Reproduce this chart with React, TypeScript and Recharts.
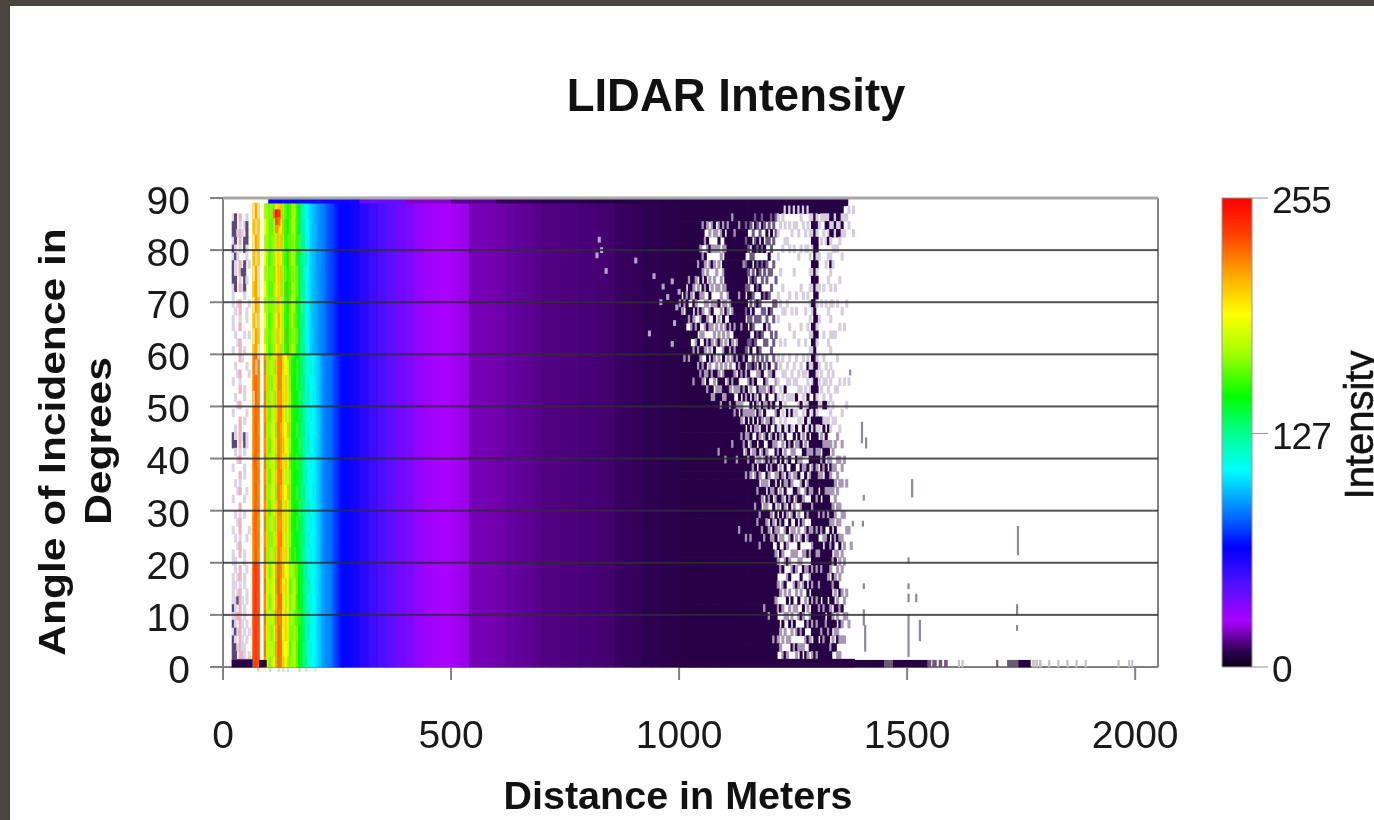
import React from 'react';
import { Bar, BarChart, ReferenceLine, Scatter, ScatterChart, XAxis, YAxis } from 'recharts';

const xTicks = [0, 500, 1000, 1500, 2000];
const yTicks = [0, 10, 20, 30, 40, 50, 60, 70, 80, 90];
const barTicks = [0, 127, 255];
const barData = [{ name: 'Intensity', value: 255 }];

// colour scale
const rampValues = [0, 8, 25, 45, 65, 85, 107, 127, 147, 170, 192, 215, 235, 255];
const rampColors = ['#0c0018', '#2a004c', '#aa00ff', '#5010ff', '#0000ff', '#0080ff', '#00ffff', '#00ff90', '#00ff00', '#a0ff00', '#ffff00', '#ffa000', '#ff4000', '#ff0000'];

// near field, one value per 5 m starting at 67.5 m, -1 = no return
const nearUpper = [205, 215, 205, -1, -1, 190, 170, 160, 165, 170, 195, 205, 198, 170, 155, 150, 160, 172, 168, 155, 140, 130, 122, 112, 106, 100, 96, 94, 90, 88, 86, 84, 80, 78, 76, 74, 70, 68, 66, 65];
const nearMiddle = [220, 228, 220, -1, -1, 222, 205, 165, 175, 180, 205, 222, 218, 200, 190, 182, 165, 150, 145, 145, 140, 132, 125, 118, 112, 110, 106, 104, 100, 96, 90, 86, 84, 83, 82, 78, 74, 72, 68, 66];
const nearLower = [232, 238, 232, -1, -1, 225, 200, 172, 175, 185, 215, 228, 222, 195, 192, 185, 165, 170, 172, 160, 148, 140, 132, 124, 116, 112, 108, 106, 102, 98, 92, 90, 88, 86, 84, 80, 76, 72, 68, 66];

// mottling on the near field stripes, 3 degree rows from the top: y yellow, g green, o orange, w white
const mottleRows = [
  'w.w..g.y.g..o.y.g.y.g...c..c...',
  '.w..  y.g..y.o.g.y..g.c....c...',
  'w..w.g..y.g.o..y.g..y.g..c.....',
  '.w...y.g...y.g.o.y.g...g..c..c.',
  'w.w..g.y.g..o.y..g.y.g...c.....',
  '..w..y..g.y.g.o.g..y..g.c...c..',
  'w....g.y..g.y..o.y.g.y...g.c...',
  '.w.w.y.g.y.o..g.y.g...g.c...c..',
  'w....g..y.g.y.o..g.y.g...c.....',
  '..w..y.g..y.g..o.y.g..g..c..c..',
  '.w...g.y.g..o.y.g..y.g...g.c...',
  '.....y..g.y.g.o..g.y..g.c...c..',
  'w....g.y.g.y..o.y.g.y...g.c....',
  '..o..y.g..y.o.g.y..g.g...c..c..',
  '.o...g..y.g.y..o.g.y..g.c......',
  '..o..y.g.y.g.o..y.g.y...g..c...',
  'o....g.y..g.y.o.g..y.g...c..c..',
  '..o..y.g.y..o.g.y.g..g.c.......',
  '.o...g..y.g.y..o.g.y..g...c.c..',
  '..o..y.g..y.g.o.y.g.y...g......',
  'o....g.y.g.y..o..g.y.g...c..c..',
  '..o..y..g.y.o.g.y..g..g.c......',
  '.o...g.y.g..y.o.g.y.g....c..c..',
  '..o..y.g.y.g.o..y.g..g.c.......',
  'o....g..y.g.y.o.g.y.g...g..c...',
  '..o..y.g..y.o.g..y.g.g...c..c..',
  '.o...g.y.g.y..o.y.g.y...g......',
  '..o..y..g.y.g.o..g.y..g.c...c..',
  'o....g.y.g..o.y.g.y.g....c.....',
  '..o..y.g.y.g.o.g..y.g..g...c...',
];

// far field, one value per 20 m starting at 270 m
const farValues = [66, 60, 55, 50, 46, 42, 38, 35, 31, 28, 26, 25, 24, 23, 18, 18, 17.5, 17, 16, 15.5, 15, 14, 13, 13, 12.5, 12.5, 12, 12, 11.5, 11, 10, 9.5, 9, 8.5, 8.5, 8, 8];

// strip along the 90 degree edge, one value per 100 m starting at 150 m
const topStrip = [62, 60, 40, 20, 14, 9, 8, 7, 7];

// hot spots at the top of the 120 m stripe: distance, angle, intensity
const hotDistance = [112.5, 117.5, 122.5, 117.5, 122.5, 117.5];
const hotAngle = [87, 87, 87, 85.5, 85.5, 84];
const hotValue = [225, 250, 240, 235, 225, 218];

// faint close range returns, 5 m columns from 20 m, 1.5 degree rows from the top
const closeRows = [
  '.........', '.........', 'lp.r..l..', 'pp.l.lp..', 'pplrl.p..', 'lp.r.pp..', 'pl.l.pl..', 'lpl...l..', 'pl.r.p.l.', 'pl.rpp...',
  'pp.l.pl..', 'lp.rlp...', 'l....l...', 'l.lr...l.', '.l.r..l..', 'l..l..l..', 'l..r.....', '.l...l.l.', '..lr.....', 'l..r.l...',
  '...rl....', '.l....l..', '..lr...l.', 'l..l.....', '...r.l...', '.l...l...', '..lr.....', 'l.....l..', '...r.l...', '.l.r.....',
  'pl.rlpl..', 'pp.r.pl..', '.l.l.l...', '..lr.....', 'l....l...', '...r.l...', '.l.l.....', '..lr..l..', 'l....l...', '...r.....',
  '.l.l.l...', '..lr.....', 'l..r...l.', '.l.l..l..', '..lr.....', 'l..r.l...', 'll...l...', '.l.r..l..', 'l.lr.l...', 'll.l.l...',
  'l.lr..l..', 'llprl.l..', 'pl.r.l...', 'llrr.l...', 'pl.rl.l..', 'lplr.l.l.', 'pl.rl.l..', 'pplrll...', 'pp.rrl.l.', 'ppppppppp',
];

// returns thinning out: one string per 5 m column from 1000 m, read from 90 degrees down in 1.5 degree steps: # dark, + grey, . none
const edgeColumns = [
  '########## ###+###### ########## ########## ########## ##########',
  '########## ##.#+##### ########## ########## ########## ##########',
  '########## ###+.##### +######### ########## ########## ##########',
  '########## #.+###.### ########## ########## ########## ##########',
  '########## +##.#+.### +######### ########## ########## ##########',
  '########## ##+.##+#.# ########## ########## ########## ##########',
  '########## #+.#.+##.+ ###+###### ########## ########## ##########',
  '########## +.#+#.+#+# ########## ########## ########## ##########',
  '########+# .+#.+.#.#+ #+######## ########## ########## ##########',
  '######+### #.+.#+.+.# +#+####### ########## ########## ##########',
  '###+##.+#+ .#+.+#.+.# .+#+###### ########## ########## ##########',
  '####.+.#+. #+.+.#+.#+ .#+.###### ########## ########## ##########',
  '###+.#+..+ .#.+.+#.+. #.+#+##### ########## ########## ##########',
  '###.+.#.+. +.#.+.+.#+ .+#.###### ########## ########## ##########',
  '###+..+.#. .+.+#.+.+. #.+.#+#### ########## ########## ##########',
  '####+.+.+. +..+.#.+.# +.#+.+#### ########## ########## ##########',
  '###.+.+..+ .+.+..+.+. .+#.+##### ########## ########## ##########',
  '###+.#+.+. .+.#.+.+#. +.+#+##### ##+####### ########## ##########',
  '####+..+.. +.+.+.+.+. .+.#+#+### ########## ########## ##########',
  '###+#.+.#+ .+.+.#.+.+ #.+##+#### ########## ########## ##########',
  '####.#+### #+.+#.+.+# .+#.#+#### ###+###### ########## ##########',
  '###+###### ##+.+.#+.# +.#+###### ########## ########## ##########',
  '########## ###+.#+.#+ .+##+#+### ########## ########## ##########',
  '##+####### ####+##.+# +.#+.##### #+######## ########## ##########',
  '####+##### ######+#.+ #.+#+.#+## ########## ########## ##########',
  '########## ########+# +#.#+.+### ###+###### ########## ##########',
  '###+###### ##+####### #+#.+#+.## ########## ##+####### ##########',
  '########## ######+### ##+.#.+#+# +######### ########## ##########',
  '########+# ########## +##.+#.+.# #+.####### ########## ##########',
  '###+#+#.+# #+.#+.###+ #.+.#+.+#. +#+##+#### ###+###### ##########',
  '####.#+.#+ .+#.#+.#+. .+#+.#.+.# +.#+###### ########## ##########',
  '###+.#.+#. +.#+.+#.+# .+.#+.#+#. #+.##+#### ###+###### ##########',
  '###.+.#+.+ #.+.#.+.#. +#.+.#.+.# .#+#+.#### ########## ##########',
  '##+#.+#.#. +#.+.+.#+. .+.#.+#.#+ .#+.#+###+ ########## ##########',
  '###+.#+.+# .+.#.+.+.# +.+.#.+#.+ #.#+.##+## #+######## ##########',
  '###.+.#.#+ .#.+.+.#.+ .#+.+#.+#. +#.+#+.### +###+##### ##########',
  '##+#.#+.+. +.#.+..+.. +.#.+.#.+# .#+.#.+#+. ##+####### ##########',
  '###+..#.#+ ..+.+.#.+. .+.#+.+#.# +.#+#.+#.+ ###+###### ##+#######',
  '###.#+..+. +.#..+..+. +..+.#+.+. #.+#.#+.#+ #+######## ##########',
  '###+.+.#.+ ..+.#.+... .#+.+.#.+# .#.+#+.#+. #.+####### ###+######',
  '##+.#.+..+ .+..+..+.+ ..+.#.+.#. +#.#+.#+#. +#.+###### ##########',
  '###+.+..+. ...+.+..+. +.#.+.#.+. #+.+#.#+.# .+#+.##### ######+###',
  '##+.+..... +..+...+.. .+.+.#.+.# .+#.#+.#+. #.+#.+#### #+########',
  '##+.+..+.. ..+..+.... +..+.+.#.+ #.+#.+#.#+ .#+.#.+#.+ #.+.##+#.#',
  '##.+.....+ ...+....+. .+..+.#.+. +.#.+#.+#. #+.+.#.+.. +.#..+.+.#',
  '##+...+... .+..+..... +.+..+.+.# .+.#.+#.+# .#.+.+.#.+ ..+.#.+.+#',
  '#+.+.+.... ....+...+. ..+.#.+.+. #.+.#.+#.+ #.+.#.+..# +..+.+..##',
  '##...+.... ...+...... .+.+.+.#.+ .#.+.#+.#. +.#.+.#.+. .#.+..+.+#',
  '#+.+..+... ..+...+... +..+.+.+.# .+.#.+#.+# .#.+..+.#. +.+.#.+..#',
  '##..+..... ....+..... ..+..+.#.+ .#+.#.+.#. +.+#.+.+.. .#.+.+.#.#',
  '#+.+..+..+ .......+.. .+.+.+.+.. #.+.#+.#.+ #.+..+.#.+ ..+.#..+.#',
  '##.+...... ..+.+..... +..+.#.+.# .+.#.+.#+. .#.+.+.+.# +.+..+.#+#',
  '#+..+..+.. ........+. ..+.+.+.+. #+.+.#.+#. +.+.#.+..+ .#.+.#.+.#',
  '##+...+... .+....+... .+..+.#.+. .#.+#.+.#+ .#.+..+.#. +..#.+.+##',
  '#+.+...... ..+....... +.+..+.+.# +.#.+.#.+# .+.#.+.#.+ ..#+.#.+.#',
  '##..+.+... ....+...+. ..+.+.+.#. .+#.+#.+.# #.+..+.+.# .+..#.+.##',
  '#+.+..+... ..+...+... +#.+.#+#.+ #.+.#.+#.# +.#+.#.+.. #.+.+.#.+#',
  '##+.+..+.+ .+.+.+.+.+ .+#.+.#.+# .#+#.+#+.# #.+#.+.#+# .#.+#.+#.#',
  '##+#+#+.#+ #+.#+.#+#+ #+#+#.#+#+ ##+#+##+#+ ##+#+##+#+ #+##+#.#+#',
  '########## ########## ########## ########## ########## ##########',
  '##+#+##+#+ #+#+.#+#+. +#+##+#+#+ ##+#+###+# ##+##+#+## #+##+###+#',
  '##.+...+.. .+...+.... .+.+..+.#+ .#+#.+#.## +##.#+###+ ##+###.###',
  '##+..+.... ...+...... ..+.+.+.#. +#.+#+##.# ##+.###+## #.###+####',
  '##+.+..... .+.....+.. +..+.+#.+# .+##+.#### +##+.##### ##+###+###',
  '##+#.+..+. ...+...... .+.+..#.+. #+#.###+## ##.+###### ###.+#####',
  '##+#+#.+.. +...+...+. ..+.+.+.+# .+#+.##+## +#.#####+# #.###+####',
  '###+#+.+#+ .+.+.+.+.+ .+.+.+.+.+ .+.+#+#+.# #+#.+##+.# ##+###.+##',
  '###+#.+.+. ...+...+.. ..+...+.+. ..+.+.#+.+ #+.##.+.#+ .#.+#.+#.#',
  '##+#+.+... .+.....+.. ....+...+. .+..+.+.+. +.#+.+#.+# +.#.#+.#.#',
  '###+#.+... ...+...... +...+..... +..+.+.+.+ .+.#.+.+.# .+#+.+#.+#',
  '###+#+.... +.....+... ...+.....+ ...+..+..+ .+.+#.+.+. #.+.#.+.+#',
  '##+#+..+.. ....+..... .......+.. .+..+.+... +..+.+.+.. +.#.+.+..#',
  '#.+.+..... ......+... ...+...... ...+...... +...+.+... .+.+..+..#',
  '#.+....... ...+...... ......+... ......+... ..+....... +..+.....#',
  '.+.+...... .......... ...+...... .......... ..+....... ....+....#',
  '.......... .......... .......... .......... ....+..... .........#',
  '.+..+..... .......... .......... .......... .......... .........#',
];

// stray returns before the edge: distance, angle
const strayDistance = [825, 830, 1000, 985, 975, 960, 995, 935, 985, 990, 820, 840, 905, 945, 965];
const strayAngle = [82, 80, 72, 74, 71, 70, 69, 64, 62, 66, 79, 76, 78, 75, 73];

// thin streaks past the edge: distance, low angle, high angle
const streakDistance = [1375, 1401, 1410, 1511, 1743, 1405, 1405, 1405, 1408, 1503, 1503, 1503, 1503, 1520, 1528, 1381, 1403, 1741, 1741];
const streakLow = [56, 43, 42, 32.6, 21.5, 32, 15, 8, 3, 20, 15, 12.5, 2, 12.5, 5, 27, 27, 10, 7];
const streakHigh = [57, 47, 44, 36, 27, 33, 16, 11, 8, 21, 16, 14, 10, 14, 9, 28, 28, 12, 8];

// ground strip along 0 degrees: start, end, intensity tone (0 black .. 2 light)
const groundStart = [20, 80, 1000, 1450, 1470, 1545, 1556, 1570, 1582, 1612, 1620, 1696, 1720, 1745, 1775, 1782, 1790, 1810, 1830, 1850, 1870, 1890, 1962, 1985, 1992];
const groundEnd = [63, 95, 1450, 1470, 1545, 1552, 1564, 1576, 1588, 1615, 1623, 1699, 1745, 1770, 1779, 1786, 1794, 1813, 1833, 1853, 1873, 1893, 1965, 1988, 1995];
const groundTone = [0, 0, 0, 1, 0, 1, 1, 1, 1, 2, 2, 1, 1, 0, 2, 2, 2, 2, 2, 2, 2, 2, 2, 2, 2];

const PX_PER_M = 935 / 2050;
const PX_PER_DEG = 469 / 90;
const FONT = '"Liberation Sans", Arial, sans-serif';
const DARK = '#270046';

function rampColor(v: number) {
  let i = 0;
  while (i < rampValues.length - 2 && v > rampValues[i + 1]) i++;
  const t = Math.min(1, (v - rampValues[i]) / (rampValues[i + 1] - rampValues[i]));
  const a = rampColors[i];
  const b = rampColors[i + 1];
  const part = (p: number) => Math.round(parseInt(a.slice(p, p + 2), 16) * (1 - t) + parseInt(b.slice(p, p + 2), 16) * t);
  return `rgb(${part(1)},${part(3)},${part(5)})`;
}

interface HeatCell {
  d: number;
  a: number;
  w: number;
  h: number;
  fill: string;
}

const columnCells: HeatCell[] = [];
[[nearUpper, 60, 29], [nearMiddle, 20, 40], [nearLower, 0, 20]].forEach(([values, low, span]: any) => {
  values.forEach((v: number, i: number) => {
    if (v >= 0) columnCells.push({ d: 67.5 + i * 5, a: low + span / 2, w: 5, h: span, fill: rampColor(v) });
  });
});
farValues.forEach((v, i) => columnCells.push({ d: 270 + i * 20, a: 44.5, w: 20, h: 89, fill: rampColor(v) }));

const mottleColors: Record<string, string> = {
  y: 'rgba(255,235,60,0.2)',
  g: 'rgba(40,220,60,0.3)',
  o: 'rgba(255,90,10,0.28)',
  w: 'rgba(255,255,255,0.55)',
  c: 'rgba(0,190,255,0.22)',
};
const mottleCells: HeatCell[] = mottleRows.flatMap((row, r) =>
  row.split('').flatMap((c, i) => (mottleColors[c] ? [{ d: 67.5 + i * 5, a: 87.5 - r * 3, w: 5, h: 3, fill: mottleColors[c] }] : [])),
);

const stripCells: HeatCell[] = topStrip.map((v, i) => ({ d: 150 + i * 100, a: 89.4, w: 100, h: 0.8, fill: rampColor(v) }));
const hotCells: HeatCell[] = hotValue.map((v, i) => ({ d: hotDistance[i], a: hotAngle[i], w: 5, h: 1.5, fill: rampColor(v) }));

const closeColors: Record<string, string> = { p: '#5a4a72', r: '#eeb0ba', l: '#dcd4e6' };
const closeCells: HeatCell[] = closeRows.flatMap((row, r) =>
  row.split('').flatMap((c, i) => (c === '.' ? [] : [{ d: 22.5 + i * 5, a: 89.25 - r * 1.5, w: 5, h: 1.5, fill: closeColors[c] }])),
);

// the grey flecks are darker where the returns are still dense and pale where they have nearly gone
function edgeColor(c: string, column: number, row: number) {
  if (c === '#') return DARK;
  if (column >= 29 && column < 43 && row < 22) return '#6e5c86';
  if (column >= 43 && row < 30) return '#d6cede';
  return '#a898b4';
}

const edgeCells: HeatCell[] = edgeColumns.flatMap((column, i) =>
  column
    .replace(/ /g, '')
    .split('')
    .flatMap((c, r) => (c === '.' ? [] : [{ d: 1002.5 + i * 5, a: 89.25 - r * 1.5, w: 5, h: 1.5, fill: edgeColor(c, i, r) }])),
);

const strayCells: HeatCell[] = strayDistance.map((d, i) => ({ d, a: strayAngle[i], w: 5, h: 1, fill: '#b8a6c8' }));
const streakCells: HeatCell[] = streakDistance.map((d, i) => ({
  d,
  a: (streakLow[i] + streakHigh[i]) / 2,
  w: 3,
  h: streakHigh[i] - streakLow[i],
  fill: '#8d8894',
}));
const toneColors = [DARK, '#6a5a78', '#c4c0c8'];
const groundCells: HeatCell[] = groundStart.map((s, i) => ({
  d: (s + groundEnd[i]) / 2,
  a: 0.65,
  w: groundEnd[i] - s,
  h: 1.3,
  fill: toneColors[groundTone[i]],
}));

// grid lines sit on top of the heat map, so they go in as the last layer
const gridCells: HeatCell[] = yTicks.slice(1).map((t) => ({
  d: 1025,
  a: t,
  w: 2050,
  h: (t === 90 ? 3 : 2) / PX_PER_DEG,
  fill: t === 90 ? '#a8a8a8' : 'rgba(45,45,50,0.82)',
}));

function CellShape({ cx, cy, payload }: any) {
  const w = payload.w * PX_PER_M;
  const h = payload.h * PX_PER_DEG;
  return <rect x={cx - w / 2 - 0.4} y={cy - h / 2 - 0.3} width={w + 0.8} height={h + 0.6} fill={payload.fill} />;
}

// translucent layers must not overlap
function WashShape({ cx, cy, payload }: any) {
  const w = payload.w * PX_PER_M;
  const h = payload.h * PX_PER_DEG;
  return <rect x={cx - w / 2} y={cy - h / 2} width={w} height={h} fill={payload.fill} />;
}

function YTitle() {
  return (
    <g fontFamily={FONT} fontWeight="bold" fontSize={42.5} fill="#111" textAnchor="middle">
      <text transform="translate(65,442) rotate(-90) scale(1,0.86)">Angle of Incidence in</text>
      <text transform="translate(111,441) rotate(-90) scale(1,0.86)">Degrees</text>
    </g>
  );
}

function XTitle() {
  return (
    <text x={678} y={809} fontFamily={FONT} fontWeight="bold" fontSize={39.5} fill="#111" textAnchor="middle">
      Distance in Meters
    </text>
  );
}

function BarTitle() {
  return (
    <text transform="translate(1373,425) rotate(-90)" fontFamily={FONT} fontSize={40} fill="#111" stroke="#111" strokeWidth={0.6} textAnchor="middle">
      Intensity
    </text>
  );
}

const tickStyle = { fontFamily: FONT, fontSize: 39, fill: '#1a1a1a' };

export default function App() {
  return (
    <div style={{ position: 'absolute', left: 0, top: 0, width: 1374, height: 820, background: '#4a4640', overflow: 'hidden' }}>
      <div style={{ position: 'absolute', left: 10, top: 6, width: 1364, height: 814, background: '#fff' }} />
      <div
        style={{
          position: 'absolute',
          left: 0,
          top: 70,
          width: 1472,
          textAlign: 'center',
          fontFamily: FONT,
          fontWeight: 'bold',
          fontSize: 45.5,
          lineHeight: '52px',
          color: '#111',
          filter: 'blur(0.5px)',
        }}
      >
        LIDAR Intensity
      </div>
      <div style={{ position: 'absolute', left: 0, top: 0, filter: 'blur(0.7px)' }}>
        <ScatterChart width={1374} height={820} margin={{ top: 198, right: 216, bottom: 53, left: 0 }}>
          <XAxis
            type="number"
            dataKey="d"
            domain={[0, 2050]}
            ticks={xTicks}
            height={100}
            tickSize={13}
            tickMargin={40}
            tick={tickStyle}
            stroke="#808080"
            strokeWidth={2}
            interval={0}
            label={<XTitle />}
          />
          <YAxis
            type="number"
            dataKey="a"
            domain={[0, 90]}
            ticks={yTicks}
            width={223}
            tickSize={13}
            tickMargin={20}
            tick={{ ...tickStyle, dy: 2 }}
            stroke="#808080"
            strokeWidth={2}
            interval={0}
            label={<YTitle />}
          />
          <ReferenceLine x={2050} stroke="#808080" strokeWidth={2} />
          <Scatter data={columnCells} shape={CellShape} isAnimationActive={false} />
          <Scatter data={mottleCells} shape={WashShape} isAnimationActive={false} />
          <Scatter data={stripCells} shape={CellShape} isAnimationActive={false} />
          <Scatter data={hotCells} shape={CellShape} isAnimationActive={false} />
          <Scatter data={closeCells} shape={CellShape} isAnimationActive={false} />
          <Scatter data={edgeCells} shape={CellShape} isAnimationActive={false} />
          <Scatter data={strayCells} shape={CellShape} isAnimationActive={false} />
          <Scatter data={streakCells} shape={CellShape} isAnimationActive={false} />
          <Scatter data={groundCells} shape={CellShape} isAnimationActive={false} />
          <Scatter data={gridCells} shape={WashShape} isAnimationActive={false} />
        </ScatterChart>
      </div>
      <div style={{ position: 'absolute', left: 0, top: 0, filter: 'blur(0.5px)' }}>
        <BarChart width={1374} height={820} data={barData} margin={{ top: 198, right: 22, bottom: 153, left: 1222 }} barCategoryGap={0}>
          <defs>
            <linearGradient id="ramp" x1="0" y1="1" x2="0" y2="0">
              {rampValues.map((v, i) => (
                <stop key={v} offset={v / 255} stopColor={rampColors[i]} />
              ))}
            </linearGradient>
          </defs>
          <XAxis dataKey="name" hide />
          <YAxis
            orientation="right"
            domain={[0, 255]}
            ticks={barTicks}
            width={100}
            tickSize={16}
            tickMargin={4}
            tick={{ fontFamily: FONT, fontSize: 37, fill: '#1a1a1a', letterSpacing: -1, dy: 2 }}
            stroke="#909090"
            axisLine={false}
            interval={0}
            label={<BarTitle />}
          />
          <Bar dataKey="value" fill="url(#ramp)" stroke="#999" isAnimationActive={false} />
        </BarChart>
      </div>
    </div>
  );
}
